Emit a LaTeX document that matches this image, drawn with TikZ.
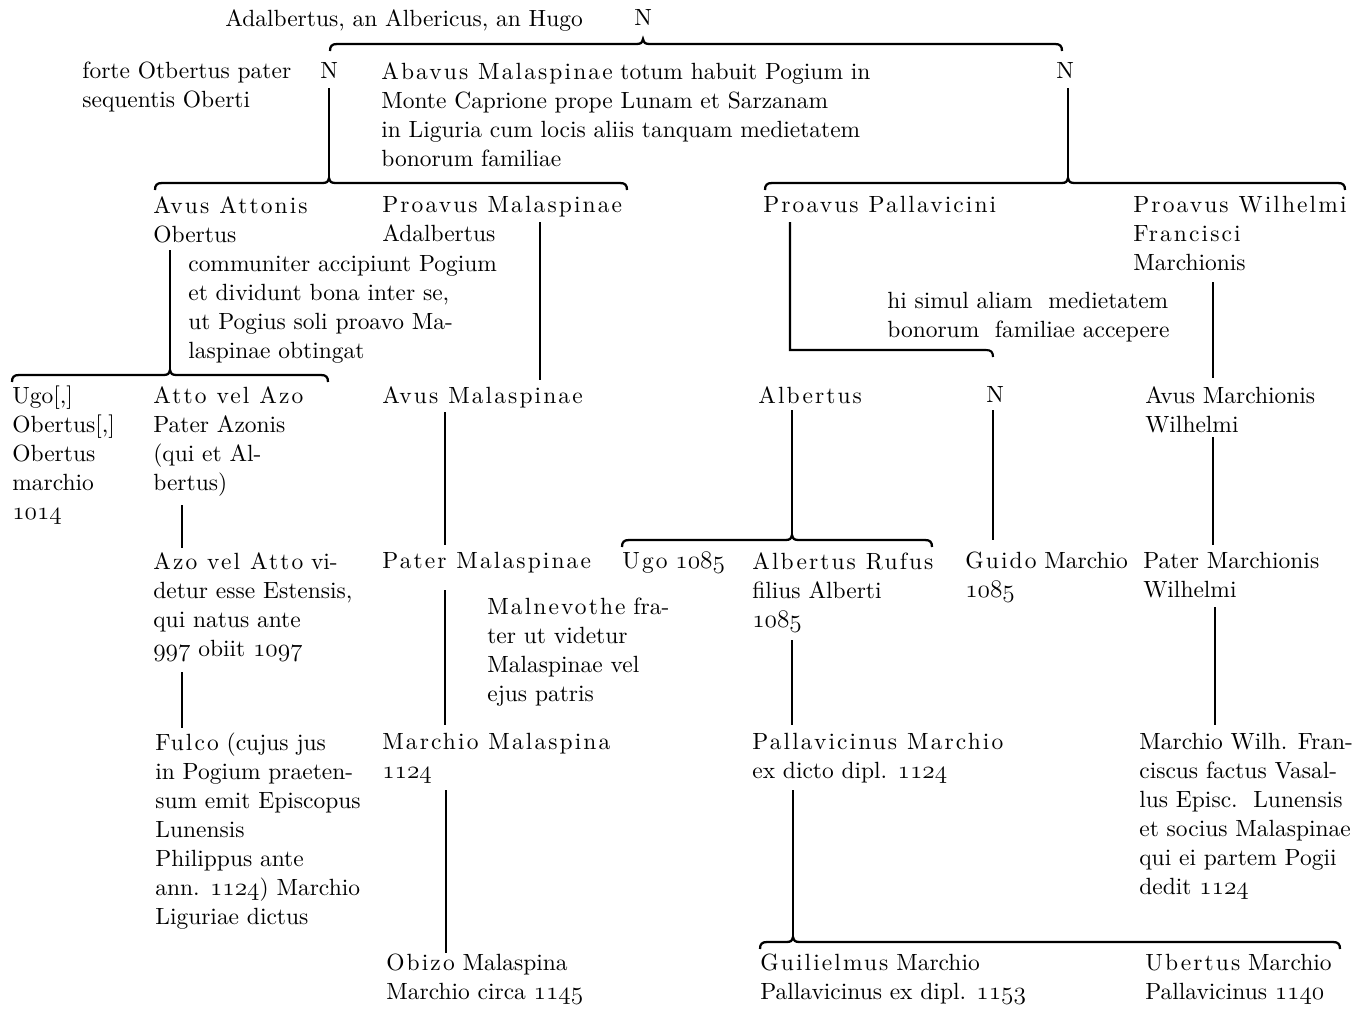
\documentclass[tikz,border=0pt]{standalone}
\usepackage{fontspec}
\setmainfont{lmroman10-regular.otf}

\newcommand\lsp[1]{{\addfontfeature{LetterSpace=9}#1}}
\newcommand\osf[1]{{\usefont{OML}{lmm}{m}{it}#1}}
% left end, peak, right end, height
\newcommand\famtie[4]{%
  \draw[tie] (#1,#4+7) .. controls (#1,#4+2) and (#1+2,#4) .. (#1+7,#4)
    -- (#2-7,#4) .. controls (#2-2,#4) and (#2-1,#4-1) .. (#2,#4-5)
    .. controls (#2+1,#4-1) and (#2+2,#4) .. (#2+7,#4)
    -- (#3-7,#4) .. controls (#3-2,#4) and (#3,#4+2) .. (#3,#4+7);}

\tikzset{
  txt/.style={anchor=north west, align=left, inner sep=0pt,
    font=\fontsize{13.35}{16.5}\selectfont},
  line/.style={line width=1.2pt},
  tie/.style={line width=1.3pt}
}

\begin{document}
\begin{tikzpicture}[x=0.02cm,y=-0.02cm]
	\useasboundingbox (0,0) rectangle (1353,1009);

	\node[txt] (ahug) at (225,9) {Adalbertus, an Albericus, an Hugo};
	\node[txt] (n0) at (634,9) {N};

	\node[txt] (forte) at (82,62) {forte Otbertus pater\\sequentis Oberti};
	\node[txt] (n1) at (320,62) {N};
	\node[txt] (abav) at (381,62) {\lsp{Abavus Malaspinae} totum habuit Pogium in\\Monte Caprione prope Lunam et Sarzanam\\in Liguria cum locis aliis tanquam medietatem\\bonorum familiae};
	\node[txt] (n2) at (1056,62) {N};

	\node[txt] (avatt) at (153,196) {\lsp{Avus Attonis}\\Obertus};
	\node[txt] (proma) at (382,196) {\lsp{Proavus Malaspinae}\\Adalbertus};
	\node[txt] (propal) at (763,196) {\lsp{Proavus Pallavicini}};
	\node[txt] (prowil) at (1133,196) {\lsp{Proavus Wilhelmi}\\\lsp{Francisci}\\Marchionis};
	\node[txt] (comm) at (188,255) {communiter accipiunt Pogium\\et dividunt bona inter se,\\ut Pogius soli proavo Ma-\\laspinae obtingat};
	\node[txt] (hisim) at (887,292) {hi simul aliam\ \ medietatem\\bonorum\ \ familiae accepere};

	\node[txt] (ugo) at (12,386) {Ugo[,]\\Obertus[,]\\Obertus\\marchio\\\osf{1014}};
	\node[txt] (atto) at (153,386) {\lsp{Atto vel Azo}\\Pater Azonis\\(qui et Al-\\bertus)};
	\node[txt] (avmal) at (382,386) {\lsp{Avus Malaspinae}};
	\node[txt] (alb) at (758,386) {\lsp{Albertus}};
	\node[txt] (n3) at (986,386) {N};
	\node[txt] (avmar) at (1145,386) {Avus Marchionis\\Wilhelmi};

	\node[txt] (azo) at (153,552) {\lsp{Azo vel Atto} vi-\\detur esse Estensis,\\qui natus ante\\\osf{997} obiit \osf{1097}};
	\node[txt] (patmal) at (382,552) {\lsp{Pater Malaspinae}};
	\node[txt] (ugob) at (622,552) {\lsp{Ugo} \osf{1085}};
	\node[txt] (albruf) at (752,552) {\lsp{Albertus Rufus}\\filius Alberti\\\osf{1085}};
	\node[txt] (guido) at (965,552) {\lsp{Guido} Marchio\\\osf{1085}};
	\node[txt] (patmar) at (1143,552) {Pater Marchionis\\Wilhelmi};
	\node[txt] (maln) at (487,598) {\lsp{Malnevothe} fra-\\ter ut videtur\\Malaspinae vel\\ejus patris};

	\node[txt] (fulco) at (155,733) {\lsp{Fulco} (cujus jus\\in Pogium praeten-\\sum emit Episcopus\\Lunensis\\Philippus ante\\ann. \osf{1124}) Marchio\\Liguriae dictus};
	\node[txt] (marmal) at (382,733) {\lsp{Marchio Malaspina}\\\osf{1124}};
	\node[txt] (palmar) at (752,733) {\lsp{Pallavicinus Marchio}\\ex dicto dipl. \osf{1124}};
	\node[txt] (marwil) at (1139,733) {Marchio Wilh. Fran-\\ciscus factus Vasal-\\lus Episc.\ \ Lunensis\\et socius Malaspinae\\qui ei partem Pogii\\dedit \osf{1124}};

	\node[txt] (obizo) at (386,954) {\lsp{Obizo} Malaspina\\Marchio circa \osf{1145}};
	\node[txt] (guil) at (760,954) {\lsp{Guilielmus} Marchio\\Pallavicinus ex dipl. \osf{1153}};
	\node[txt] (ubert) at (1145,954) {\lsp{Ubertus} Marchio\\Pallavicinus \osf{1140}};

	% line ends
	\coordinate (a1) at (329,88);    \coordinate (a2) at (329,178);
	\coordinate (b1) at (1068,88);   \coordinate (b2) at (1068,178);
	\coordinate (c1) at (170,250);   \coordinate (c2) at (170,370);
	\coordinate (d1) at (540,222);   \coordinate (d2) at (540,380);
	\coordinate (e1) at (790,222);   \coordinate (e2) at (790,350);
	\coordinate (e3) at (986,350);   \coordinate (e4) at (993,357);
	\coordinate (f1) at (1213,282);  \coordinate (f2) at (1213,378);
	\coordinate (g1) at (445,412);   \coordinate (g2) at (445,545);
	\coordinate (h1) at (792,410);   \coordinate (h2) at (792,535);
	\coordinate (i1) at (993,410);   \coordinate (i2) at (993,540);
	\coordinate (j1) at (1213,437);  \coordinate (j2) at (1213,545);
	\coordinate (k1) at (182,505);   \coordinate (k2) at (182,548);
	\coordinate (l1) at (182,672);   \coordinate (l2) at (182,728);
	\coordinate (m1) at (445,590);   \coordinate (m2) at (445,725);
	\coordinate (o1) at (792,640);   \coordinate (o2) at (792,725);
	\coordinate (p1) at (1215,607);  \coordinate (p2) at (1215,725);
	\coordinate (q1) at (446,790);   \coordinate (q2) at (446,953);
	\coordinate (r1) at (793,790);   \coordinate (r2) at (793,937);

	\draw[line] (a1)--(a2);
	\draw[line] (b1)--(b2);
	\draw[line] (c1)--(c2);
	\draw[line] (d1)--(d2);
	\draw[line] (e1)--(e2)--(e3) .. controls (991,350) and (993,352) .. (e4);
	\draw[line] (f1)--(f2);
	\draw[line] (g1)--(g2);
	\draw[line] (h1)--(h2);
	\draw[line] (i1)--(i2);
	\draw[line] (j1)--(j2);
	\draw[line] (k1)--(k2);
	\draw[line] (l1)--(l2);
	\draw[line] (m1)--(m2);
	\draw[line] (o1)--(o2);
	\draw[line] (p1)--(p2);
	\draw[line] (q1)--(q2);
	\draw[line] (r1)--(r2);

	\famtie{330}{643}{1062}{44}
	\famtie{155}{329}{627}{183}
	\famtie{765}{1068}{1345}{183}
	\famtie{12}{170}{328}{375}
	\famtie{622}{792}{932}{540}
	\famtie{760}{793}{1340}{942}

\end{tikzpicture}
\end{document}
